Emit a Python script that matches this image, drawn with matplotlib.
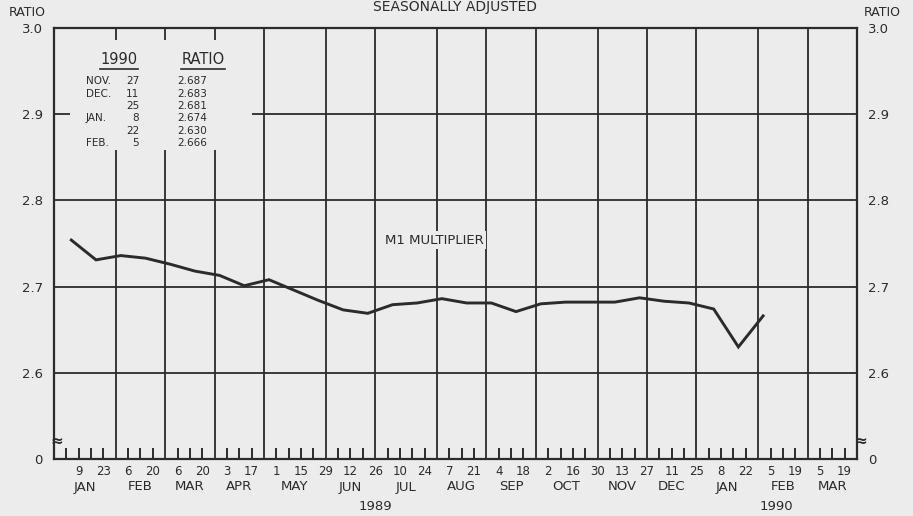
import matplotlib
matplotlib.use("Agg")
import matplotlib.pyplot as plt
from matplotlib.patches import Rectangle
from matplotlib.lines import Line2D
import numpy as np

# ---------------- data ----------------
months = ['JAN', 'FEB', 'MAR', 'APR', 'MAY', 'JUN', 'JUL', 'AUG', 'SEP', 'OCT',
          'NOV', 'DEC', 'JAN', 'FEB', 'MAR']
weeks_per_month = [5, 4, 4, 4, 5, 4, 5, 4, 4, 5, 4, 4, 5, 4, 4]
day_labels = ['9', '23', '6', '20', '6', '20', '3', '17', '1', '15', '29', '12', '26',
              '10', '24', '7', '21', '4', '18', '2', '16', '30', '13', '27', '11', '25',
              '8', '22', '5', '19', '5', '19']
years = ['1989', '1990']
year_week = [26, 58.5]

# biweekly M1 multiplier (seasonally adjusted), 1989-01-09 .. 1990-02-05
ratio = [2.754, 2.731, 2.736, 2.733, 2.726, 2.718, 2.713, 2.701, 2.708, 2.696,
         2.684, 2.673, 2.669, 2.679, 2.681, 2.686, 2.681, 2.681, 2.671, 2.680,
         2.682, 2.682, 2.682, 2.687, 2.683, 2.681, 2.674, 2.630, 2.666]

tbl_month = ['NOV.', 'DEC.', '', 'JAN.', '', 'FEB.']
tbl_day = ['27', '11', '25', '8', '22', '5']
tbl_ratio = ['2.687', '2.683', '2.681', '2.674', '2.630', '2.666']

yticks = [2.5, 2.6, 2.7, 2.8, 2.9, 3.0]
ytick_labels = ['0', '2.6', '2.7', '2.8', '2.9', '3.0']

# ---------------- layout ----------------
BG = '#ececec'
INK = '#2b2b2b'
plt.rcParams['font.family'] = ['DejaVu Sans']

W, H = 913, 516
fig = plt.figure(figsize=(W / 100, H / 100), dpi=100, facecolor=BG)
x0, x1, ytop, ybot = 54, 857, 28, 459
ax = fig.add_axes([x0 / W, 1 - ybot / H, (x1 - x0) / W, (ybot - ytop) / H])
ax.set_facecolor(BG)

bounds = np.cumsum(weeks_per_month)
total_weeks = bounds[-1]
ax.set_xlim(0, total_weeks)
ax.set_ylim(2.5, 3.0)

# data positions: biweekly dates (week index of labels) slightly shifted
label_weeks = np.arange(2, total_weeks, 2)
pt_weeks = label_weeks[:len(ratio)] - 0.6
ax.plot(pt_weeks, ratio, color=INK, lw=2.1, zorder=4, solid_joinstyle='miter')

lab_map = dict(zip(label_weeks, day_labels))
# month boundaries (major) -> grid lines, with labels where a date falls there
ax.set_xticks(bounds[:-1])
ax.set_xticklabels([lab_map.get(w, '') for w in bounds[:-1]])
ax.tick_params(axis='x', which='major', length=0, labelsize=8.5, pad=4,
               labelcolor=INK)
# weekly ticks (minor) with biweekly labels
minor = np.arange(1, total_weeks)
ax.set_xticks(minor, minor=True)
ax.set_xticklabels([lab_map.get(w, '') for w in minor], minor=True)
ax.tick_params(axis='x', which='minor', direction='in', length=8, width=1.4,
               color=INK, labelsize=8.5, pad=4, labelcolor=INK)

ax.set_yticks(yticks)
ax.set_yticklabels(ytick_labels)
ax.tick_params(axis='y', which='both', length=0, labelsize=9.5, pad=8,
               labelleft=True, labelright=True, labelcolor=INK)

ax.grid(True, which='major', color=INK, lw=1.3)
ax.set_axisbelow(True)
for s in ax.spines.values():
    s.set_color(INK)
    s.set_linewidth(1.6)

# month names & years
tr = ax.get_xaxis_transform()
hh = ybot - ytop
ww = x1 - x0
starts = np.concatenate([[0], bounds[:-1]])
for m, a, b in zip(months, starts, bounds):
    ax.text((a + b) / 2, (ybot - 487) / hh, m, transform=tr,
            ha='center', va='center', fontsize=9.5, color=INK)
for yr, w in zip(years, year_week):
    ax.text(w, (ybot - 506) / hh, yr, transform=tr,
            ha='center', va='center', fontsize=9.5, color=INK)

# texts around
fig.text(455 / W, 1 - 7 / H, 'SEASONALLY ADJUSTED', ha='center', va='center',
         fontsize=10, color=INK)
fig.text(27 / W, 1 - 12 / H, 'RATIO', ha='center', va='center', fontsize=9, color=INK)
fig.text(882 / W, 1 - 13 / H, 'RATIO', ha='center', va='center', fontsize=9, color=INK)

# axis break marks
for xp in (57, 861):
    ax.text((xp - x0) / ww, (ybot - 441) / hh, '≈', transform=ax.transAxes,
            ha='center', va='center', fontsize=11, fontweight='bold', color=INK,
            clip_on=False, zorder=6)

# series label
ax.text((434 - x0) / ww, (ybot - 240) / hh, 'M1 MULTIPLIER', transform=ax.transAxes,
        ha='center', va='center', fontsize=9.5, color=INK, zorder=5,
        bbox=dict(facecolor=BG, edgecolor='none', pad=2))

# table box
def ax_xy(px, py):
    return (px - x0) / ww, (ybot - py) / hh

bx0, by0 = ax_xy(70, 150)
bx1, by1 = ax_xy(252, 40)
ax.add_patch(Rectangle((bx0, by0), bx1 - bx0, by1 - by0, transform=ax.transAxes,
                       facecolor=BG, edgecolor='none', zorder=3))
heads = []
for txt, px in (('1990', 119), ('RATIO', 203)):
    hx, hy = ax_xy(px, 60)
    heads.append(ax.text(hx, hy, txt, transform=ax.transAxes, ha='center', va='center',
                         fontsize=10.5, color=INK, zorder=5))
row_y = [81.5, 93.8, 106.1, 118.4, 130.7, 143.0]
for m, d, r, py in zip(tbl_month, tbl_day, tbl_ratio, row_y):
    mx, my = ax_xy(86, py)
    ax.text(mx, my, m, transform=ax.transAxes, ha='left', va='center', fontsize=7.5,
            color=INK, zorder=5)
    dx, _ = ax_xy(139, py)
    ax.text(dx, my, d, transform=ax.transAxes, ha='right', va='center', fontsize=7.5,
            color=INK, zorder=5)
    rx, _ = ax_xy(177, py)
    ax.text(rx, my, r, transform=ax.transAxes, ha='left', va='center', fontsize=7.5,
            color=INK, zorder=5)

fig.canvas.draw()
rend = fig.canvas.get_renderer()
for t in heads:
    bb = t.get_window_extent(rend)
    fig.add_artist(Line2D([bb.x0, bb.x1], [bb.y0 - 1, bb.y0 - 1], color=INK, lw=1.2,
                          transform=None))

fig.savefig('out.png', dpi=100, facecolor=BG)
